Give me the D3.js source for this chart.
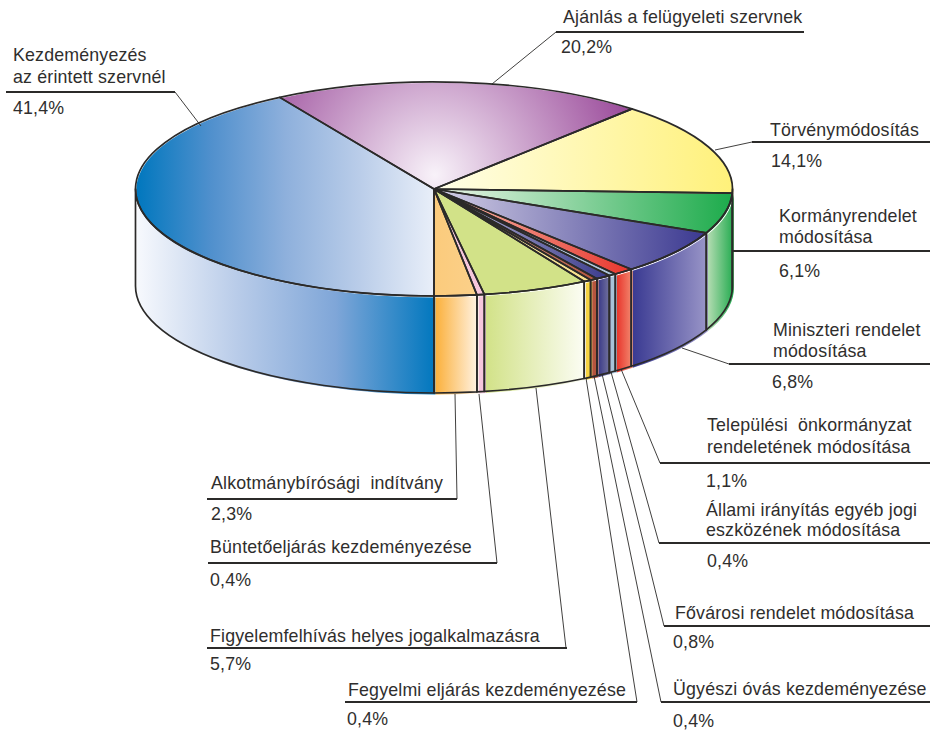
<!DOCTYPE html>
<html>
<head>
<meta charset="utf-8">
<script src="https://cdn.jsdelivr.net/npm/d3@7"></script>
<style>
  html, body { margin: 0; padding: 0; background: #fff; }
  svg { display: block; }
  text { font-family: "Liberation Sans", Arial, sans-serif; font-size: 17.8px; letter-spacing: 0.17px; fill: #2f2e2d; white-space: pre; }
</style>
</head>
<body>
<div id="chart"></div>
<script>
// slices, clockwise from the front of the pie
const categories = [
    ["Kezdeményezés", "az érintett szervnél"],
    ["Ajánlás a felügyeleti szervnek"],
    ["Törvénymódosítás"],
    ["Kormányrendelet", "módosítása"],
    ["Miniszteri rendelet", "módosítása"],
    ["Települési  önkormányzat", "rendeletének módosítása"],
    ["Állami irányítás egyéb jogi", "eszközének módosítása"],
    ["Fővárosi rendelet módosítása"],
    ["Ügyészi óvás kezdeményezése"],
    ["Fegyelmi eljárás kezdeményezése"],
    ["Figyelemfelhívás helyes jogalkalmazásra"],
    ["Büntetőeljárás kezdeményezése"],
    ["Alkotmánybírósági  indítvány"]
];
const values = [41.4, 20.2, 14.1, 6.1, 6.8, 1.1, 0.4, 0.8, 0.4, 0.4, 5.7, 0.4, 2.3];

// colours of each slice from left to right, evenly spaced
const topColors = [
    ["#0077be", "#5090cd", "#8eb0dc", "#bacde9", "#e9eff9"], null, ["#fffee8", "#fff17a"], ["#eef6ea", "#1cab4b"],
    ["#d4d0e6", "#3a3890"], ["#f4c0b0", "#e8352c"], ["#c8d8e6", "#a8c3da"], ["#c0c0d8", "#3a3a8c"],
    ["#d8b0a0", "#b4553e"], ["#faeeb8", "#f8e08a"], ["#d2e288", "#d2e288"], ["#f6c6dc", "#f6c6dc"],
    ["#fbcb7c", "#fbd08a"]
];
const sideColors = [
    ["#f7f9fd", "#b9cce9", "#7fa6d8", "#0077be"], ["#fff", "#fff"], ["#fff17a", "#fff17a"], ["#b4dcb2", "#22ab4f"],
    ["#3a3a92", "#9a96c8"], ["#e8352c", "#f28c72"], ["#a8c3da", "#a8c3da"], ["#3a3a88", "#7a7aa0"],
    ["#b4553e", "#b4553e"], ["#f6d343", "#f6d343"], ["#d2e288", "#fcfdf5"], ["#f6c6dc", "#f6c6dc"],
    ["#fbb03b", "#fff4e6"]
];

// where each callout sits: text x, text baselines, rule, percent baseline, leader end
const labelLayout = [
    { x: 13, lines: [61, 83], rule: [6, 175, 92], pctX: 13, pct: 114, leader: [175, 92, 201, 126] },
    { x: 563, lines: [23], rule: [556, 804, 32], pctX: 561, pct: 53, leader: [556, 32, 492, 84] },
    { x: 770, lines: [136], rule: [752, 930, 142], pctX: 771, pct: 167, leader: [752, 142, 715, 150] },
    { x: 779, lines: [222, 243], rule: [733, 930, 251], pctX: 779, pct: 277, leader: null },
    { x: 773, lines: [336, 357], rule: [729, 930, 364], pctX: 772, pct: 388, leader: [729, 364, 682, 348] },
    { x: 707, lines: [431, 453], rule: [660, 930, 463], pctX: 706, pct: 487, leader: [660, 463, 621, 369] },
    { x: 706, lines: [516, 536], rule: [659, 930, 543], pctX: 707, pct: 567, leader: [659, 543, 611, 372] },
    { x: 675, lines: [619], rule: [664, 930, 626], pctX: 673, pct: 648, leader: [664, 626, 602, 374] },
    { x: 673, lines: [695], rule: [661, 930, 702], pctX: 673, pct: 727, leader: [661, 702, 594, 376] },
    { x: 348, lines: [696], rule: [345, 637, 702], pctX: 347, pct: 725, leader: [637, 702, 586, 378] },
    { x: 210, lines: [642], rule: [207, 567, 648], pctX: 210, pct: 670, leader: [566, 648, 536, 388] },
    { x: 210, lines: [553], rule: [208, 497, 563], pctX: 210, pct: 586, leader: [497, 563, 479, 394] },
    { x: 211, lines: [489], rule: [207, 457, 499], pctX: 211, pct: 520, leader: [457, 499, 455, 394] }
];

const width = 932, height = 730;
const pieCx = 434, pieCy = 189, pieRx = 298.5, pieRy = 107, pieDepth = 97;
const inkColor = "#2b2a29";

const x = d3.scaleLinear().domain([-1, 1]).range([pieCx - pieRx, pieCx + pieRx]);
const y = d3.scaleLinear().domain([-1, 1]).range([pieCy - pieRy, pieCy + pieRy]);

const svg = d3.select("#chart").append("svg").attr("width", width).attr("height", height);
const defs = svg.append("defs");

// start at the front and go clockwise
const arcs = d3.pie().sort(null).startAngle(Math.PI).endAngle(3 * Math.PI)(values);

const px = a => x(Math.sin(a));
const py = a => y(-Math.cos(a));

function arcTo(a0, a1, dy, sweep) {
    const large = Math.abs(a1 - a0) > Math.PI ? 1 : 0;
    return `A${pieRx},${pieRy} 0 ${large} ${sweep} ${px(a1)},${py(a1) + dy}`;
}

function topPath(d) {
    return `M${pieCx},${pieCy} L${px(d.startAngle)},${py(d.startAngle)} ` +
        arcTo(d.startAngle, d.endAngle, 0, 1) + " Z";
}

// visible wall only: the part of the slice on the front half of the rim
function sideAngles(d) {
    const twoPi = 2 * Math.PI;
    const ranges = [[Math.PI / 2, 3 * Math.PI / 2], [Math.PI / 2 + twoPi, 3 * Math.PI / 2 + twoPi]];
    for (const r of ranges) {
        const a0 = Math.max(d.startAngle, r[0]), a1 = Math.min(d.endAngle, r[1]);
        if (a1 > a0) return [a0, a1];
    }
    return null;
}

function sidePath(a0, a1) {
    return `M${px(a0)},${py(a0)} ` + arcTo(a0, a1, 0, 1) +
        ` L${px(a1)},${py(a1) + pieDepth} ` + arcTo(a1, a0, pieDepth, 0) + " Z";
}

function addGradient(id, colors, a0, a1, isTop) {
    const xs = [px(a0), px(a1)];
    d3.range(-2, 8).map(k => k * Math.PI / 2).forEach(a => {
        if (a > a0 && a < a1) xs.push(px(a));
    });
    if (isTop) xs.push(pieCx);
    const g = defs.append("linearGradient").attr("id", id)
        .attr("gradientUnits", "userSpaceOnUse")
        .attr("x1", d3.min(xs)).attr("x2", d3.max(xs)).attr("y1", 0).attr("y2", 0);
    colors.forEach((c, k) => {
        g.append("stop").attr("offset", k / (colors.length - 1)).attr("stop-color", c);
    });
}

// the purple slice fades out towards the middle of the pie
const purple = defs.append("radialGradient").attr("id", "top1")
    .attr("gradientUnits", "userSpaceOnUse")
    .attr("cx", pieCx).attr("cy", pieCy - 15).attr("r", 205);
purple.append("stop").attr("offset", 0).attr("stop-color", "#f8f2f9");
purple.append("stop").attr("offset", 1).attr("stop-color", "#9a4a9a");

arcs.forEach((d, i) => {
    if (topColors[i]) addGradient(`top${i}`, topColors[i], d.startAngle, d.endAngle, true);
    const side = sideAngles(d);
    if (side) addGradient(`side${i}`, sideColors[i], side[0], side[1], false);
});

// the fills sit slightly off the outlines, like the printed original
const fillLayer = svg.append("g").attr("transform", "translate(1.5,1.5)");
const topFillLayer = svg.append("g").attr("transform", "translate(0.8,0.8)");
const strokeLayer = svg.append("g")
    .attr("fill", "none")
    .attr("stroke", inkColor)
    .attr("stroke-width", 1.7)
    .attr("stroke-linejoin", "round");

arcs.forEach((d, i) => {
    const side = sideAngles(d);
    if (!side) return;
    const path = sidePath(side[0], side[1]);
    fillLayer.append("path").attr("d", path).attr("fill", `url(#side${i})`);
    strokeLayer.append("path").attr("d", path);
});

topFillLayer.selectAll("path")
    .data(arcs)
    .enter()
    .append("path")
    .attr("d", topPath)
    .attr("fill", (d, i) => `url(#top${i})`);

strokeLayer.selectAll(".slice")
    .data(arcs)
    .enter()
    .append("path")
    .attr("class", "slice")
    .attr("d", topPath);

// callouts
labelLayout.forEach((l, i) => {
    if (l.leader) {
        svg.append("line")
            .attr("x1", l.leader[0]).attr("y1", l.leader[1])
            .attr("x2", l.leader[2]).attr("y2", l.leader[3])
            .attr("stroke", inkColor).attr("stroke-width", 0.9);
    }
    svg.append("line")
        .attr("x1", l.rule[0]).attr("x2", l.rule[1])
        .attr("y1", l.rule[2]).attr("y2", l.rule[2])
        .attr("stroke", inkColor).attr("stroke-width", 2);
    categories[i].forEach((line, j) => {
        svg.append("text").attr("x", l.x).attr("y", l.lines[j]).text(line);
    });
    svg.append("text").attr("x", l.pctX).attr("y", l.pct)
        .text(d3.format(".1f")(values[i]).replace(".", ",") + "%");
});
</script>
</body>
</html>
